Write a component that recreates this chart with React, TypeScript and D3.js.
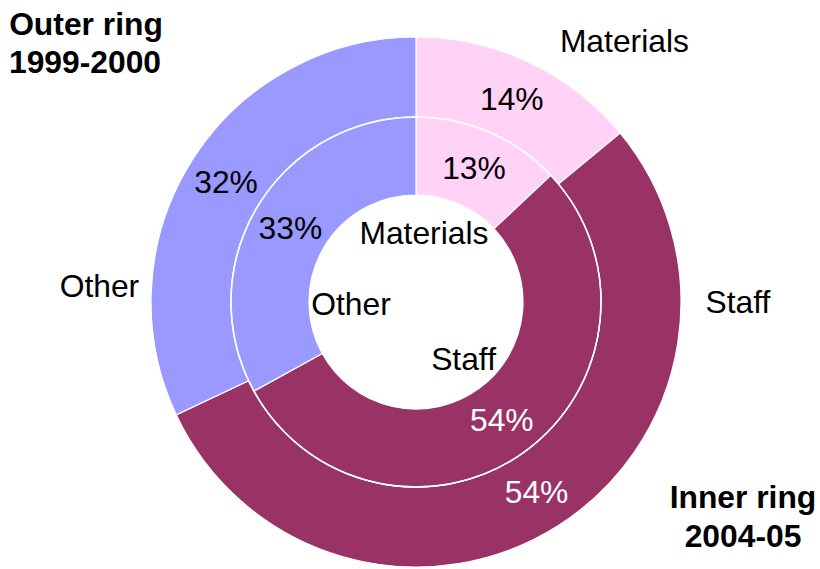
import React from "react";
import * as d3 from "d3";

const categories = ["Materials", "Staff", "Other"];
const outerValues = [14, 54, 32]; // 1999-2000
const innerValues = [13, 54, 33]; // 2004-05
const colors = ["#FFD2F6", "#993366", "#9999FF"];
const pctColors = ["#000000", "#FFFFFF", "#000000"];

// category label placement (angle in degrees clockwise from top, radius in px)
const outerLabelAngles = [38.6, 90, 273];
const outerLabelRadii = [334, 322, 317];
const innerLabelAngles = [6.5, 140, 268];
const innerLabelRadii = [70, 74, 65];

const W = 820;
const H = 569;
const cx = 416;
const cy = 302;
const rOuter = 265;
const rMid = 185;
const rHole = 107;
const FONT = "'Liberation Sans', Arial, sans-serif";
const FS = 31.8;

function polar(angleDeg: number, r: number): [number, number] {
  const a = (angleDeg * Math.PI) / 180;
  return [cx + r * Math.sin(a), cy - r * Math.cos(a)];
}

function Ring({ values, r0, r1 }: { values: number[]; r0: number; r1: number }) {
  const pie = d3.pie<number>().sort(null).value((d) => d)(values);
  const arc = d3.arc<d3.PieArcDatum<number>>().innerRadius(r0).outerRadius(r1);
  const total = d3.sum(values);
  return (
    <g>
      {pie.map((p, i) => (
        <path key={i} d={arc(p) || ""} fill={colors[i]} stroke="#FFFFFF" strokeWidth={1.2} />
      ))}
      {pie.map((p, i) => {
        const [x, y] = arc.centroid(p);
        return (
          <text
            key={"t" + i}
            x={x}
            y={y}
            dy="0.35em"
            textAnchor="middle"
            fill={pctColors[i]}
            fontSize={FS}
            fontFamily={FONT}
          >
            {Math.round((p.data / total) * 100) + "%"}
          </text>
        );
      })}
    </g>
  );
}

export default function App() {
  return (
    <svg
      width={W}
      height={H}
      style={{ position: "absolute", left: 0, top: 0, background: "#fff" }}
    >
      <g transform={`translate(${cx},${cy})`}>
        <Ring values={outerValues} r0={rMid} r1={rOuter} />
        <Ring values={innerValues} r0={rHole} r1={rMid} />
        <circle r={rMid} fill="none" stroke="#FFFFFF" strokeWidth={1.5} />
      </g>
      {categories.map((c, i) => {
        const [x, y] = polar(outerLabelAngles[i], outerLabelRadii[i]);
        return (
          <text key={"o" + c} x={x} y={y} dy="0.35em" textAnchor="middle" fontSize={FS} fontFamily={FONT} fill="#000">
            {c}
          </text>
        );
      })}
      {categories.map((c, i) => {
        const [x, y] = polar(innerLabelAngles[i], innerLabelRadii[i]);
        return (
          <text key={"i" + c} x={x} y={y} dy="0.35em" textAnchor="middle" fontSize={FS} fontFamily={FONT} fill="#000">
            {c}
          </text>
        );
      })}
      <text x={86} y={35} textAnchor="middle" fontSize={FS} fontWeight="bold" fontFamily={FONT}>
        Outer ring
      </text>
      <text x={85} y={73} textAnchor="middle" fontSize={FS} fontWeight="bold" fontFamily={FONT}>
        1999-2000
      </text>
      <text x={743} y={508} textAnchor="middle" fontSize={FS} fontWeight="bold" fontFamily={FONT}>
        Inner ring
      </text>
      <text x={743} y={547} textAnchor="middle" fontSize={FS} fontWeight="bold" fontFamily={FONT}>
        2004-05
      </text>
    </svg>
  );
}
